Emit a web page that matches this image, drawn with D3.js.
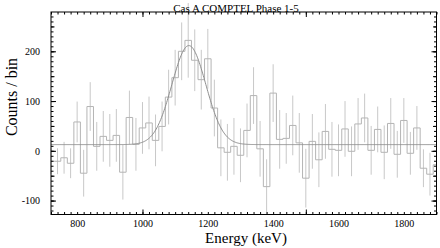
<!DOCTYPE html>
<html>
<head>
<meta charset="utf-8">
<script src="https://cdn.jsdelivr.net/npm/d3@7"></script>
<style>
  body { margin: 0; background: #fff; }
  text { font-family: "Liberation Serif", "Times New Roman", serif; }
</style>
</head>
<body>
<div id="chart"></div>
<script>
// bin centres (keV), 20 keV bins
const energies = [720, 740, 760, 780, 800, 820, 840, 860, 880, 900,
  920, 940, 960, 980, 1000, 1020, 1040, 1060, 1080, 1100,
  1120, 1140, 1160, 1180, 1200, 1220, 1240, 1260, 1280, 1300,
  1320, 1340, 1360, 1380, 1400, 1420, 1440, 1460, 1480, 1500,
  1520, 1540, 1560, 1580, 1600, 1620, 1640, 1660, 1680, 1700,
  1720, 1740, 1760, 1780, 1800, 1820, 1840, 1860, 1880, 1900];
const counts = [-21, -21, -14, -25, 58, -45, 89, 9, 29, 21,
  31, -43, 67, 13, 46, 56, 21, 49, 108, 147,
  200, 222, 182, 143, 185, 86, 6, -3, 9, -9,
  41, 111, 4, -72, 116, 23, 25, 51, 16, -55,
  19, -18, 39, 3, 1, 44, -1, 54, 66, 1,
  43, -3, 55, -7, 61, -5, 46, -35, -47, -28];
const errors = [26, 26, 32, 30, 41, 47, 49, 49, 51, 53,
  53, 55, 54, 53, 52, 53, 52, 50, 55, 56,
  58, 75, 62, 60, 60, 57, 57, 57, 57, 54,
  54, 57, 56, 55, 58, 59, 51, 60, 60, 59,
  55, 55, 55, 55, 52, 56, 50, 52, 49, 49,
  46, 54, 51, 47, 45, 43, 44, 38, 43, 40];

// gaussian line fit on a flat background
const fitBackground = 12.5;
const fitAmplitude = 199;
const fitCentre = 1142;
const fitSigma = 52;

const xTickLabels = [800, 1000, 1200, 1400, 1600, 1800];
const yTickLabels = [-100, 0, 100, 200];
const title = "Cas A COMPTEL Phase 1-5";

const width = 440, height = 248;
const frame = {left: 51, right: 436.5, top: 12, bottom: 214.5};
const binWidth = 20;

const svg = d3.select("#chart")
  .append("svg")
  .attr("width", width)
  .attr("height", height);

const x = d3.scaleLinear().domain([720, 1900]).range([frame.left, frame.right]);
const y = d3.scaleLinear().domain([-128, 279]).range([frame.bottom, frame.top]);

svg.append("clipPath").attr("id", "plot")
  .append("rect")
  .attr("x", frame.left).attr("y", frame.top)
  .attr("width", frame.right - frame.left).attr("height", frame.bottom - frame.top);

const bins = energies.map((e, i) => ({e: e, c: counts[i], err: errors[i]}));

// error bars
svg.append("g")
  .selectAll("line")
  .data(bins)
  .enter()
  .append("line")
  .attr("x1", d => x(d.e)).attr("x2", d => x(d.e))
  .attr("y1", d => y(d.c - d.err)).attr("y2", d => y(d.c + d.err))
  .attr("stroke", "#c8c8c8")
  .attr("stroke-width", 1);

// step histogram
const steps = bins.map(d => [d.e - binWidth / 2, d.c]);
steps.push([bins[bins.length - 1].e + binWidth / 2, bins[bins.length - 1].c]);

svg.append("path")
  .datum(steps)
  .attr("clip-path", "url(#plot)")
  .attr("fill", "none")
  .attr("stroke", "#b4b4b4")
  .attr("stroke-width", 1)
  .attr("d", d3.line().x(d => x(d[0])).y(d => y(d[1])).curve(d3.curveStepAfter));

// fit curve
const fitX = d3.range(720, 1901, 2);
svg.append("path")
  .datum(fitX)
  .attr("clip-path", "url(#plot)")
  .attr("fill", "none")
  .attr("stroke", "#8e8e8e")
  .attr("stroke-width", 1)
  .attr("d", d3.line()
    .x(d => x(d))
    .y(d => y(fitBackground + fitAmplitude * Math.exp(-0.5 * Math.pow((d - fitCentre) / fitSigma, 2)))));

// ticks: minor + major, on all four sides, pointing inward
function ticks(axis, pos, values, size) {
  const g = svg.append("g")
    .attr("transform", pos)
    .call(axis.tickValues(values).tickSize(size).tickFormat(""));
  g.select(".domain").remove();
  g.selectAll("line").attr("stroke", "#000");
}
const xMinor = d3.range(720, 1901, 20);
const xMajor = [1000, 1500];
const yMinor = d3.range(-120, 280, 10);
const yMid = d3.range(-100, 280, 50);
const yMajor = [-100, 0, 100, 200];

ticks(d3.axisBottom(x), `translate(0,${frame.bottom})`, xMinor, -2.5);
ticks(d3.axisBottom(x), `translate(0,${frame.bottom})`, xMajor, -5);
ticks(d3.axisTop(x), `translate(0,${frame.top})`, xMinor, -2.5);
ticks(d3.axisTop(x), `translate(0,${frame.top})`, xMajor, -5);
ticks(d3.axisLeft(y), `translate(${frame.left},0)`, yMinor, -2.5);
ticks(d3.axisLeft(y), `translate(${frame.left},0)`, yMid, -3.5);
ticks(d3.axisLeft(y), `translate(${frame.left},0)`, yMajor, -5);
ticks(d3.axisRight(y), `translate(${frame.right},0)`, yMinor, -2.5);
ticks(d3.axisRight(y), `translate(${frame.right},0)`, yMid, -3.5);
ticks(d3.axisRight(y), `translate(${frame.right},0)`, yMajor, -5);

// frame
svg.append("rect")
  .attr("x", frame.left).attr("y", frame.top)
  .attr("width", frame.right - frame.left).attr("height", frame.bottom - frame.top)
  .attr("fill", "none")
  .attr("stroke", "#000")
  .attr("stroke-width", 1);

// tick labels
const xLab = svg.append("g")
  .attr("transform", `translate(0,${frame.bottom})`)
  .call(d3.axisBottom(x).tickValues(xTickLabels).tickSize(0).tickPadding(5).tickFormat(d3.format("d")));
xLab.select(".domain").remove();
xLab.selectAll("text")
  .style("font-family", "Liberation Serif")
  .style("font-size", "10px")
  .attr("fill", "#000");

const yLab = svg.append("g")
  .attr("transform", `translate(${frame.left},0)`)
  .call(d3.axisLeft(y).tickValues(yTickLabels).tickSize(0).tickPadding(11).tickFormat(d => String(d)));
yLab.select(".domain").remove();
yLab.selectAll("text")
  .style("font-family", "Liberation Serif")
  .style("font-size", "10px")
  .attr("fill", "#000");

// title and axis titles
svg.append("text")
  .attr("x", 236)
  .attr("y", 11.5)
  .attr("text-anchor", "middle")
  .style("font-size", "11px")
  .text(title);

svg.append("text")
  .attr("x", 246)
  .attr("y", 243)
  .attr("text-anchor", "middle")
  .style("font-size", "15px")
  .text("Energy (keV)");

svg.append("text")
  .attr("text-anchor", "middle")
  .attr("transform", "translate(17,97)rotate(-90)")
  .style("font-size", "16px")
  .text("Counts / bin");
</script>
</body>
</html>
